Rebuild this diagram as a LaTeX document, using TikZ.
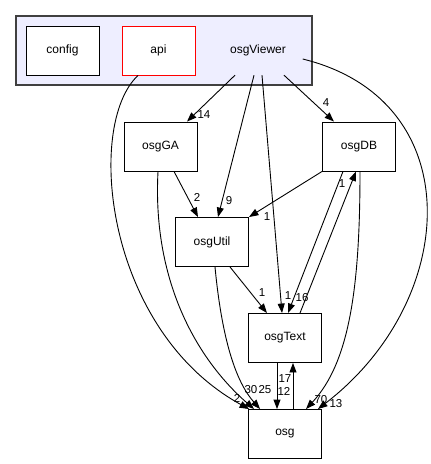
\documentclass[tikz,border=0pt]{standalone}
\usepackage{fontspec}
\setmainfont{Liberation Sans}
\usetikzlibrary{arrows.meta,calc}
\definecolor{dxframe}{HTML}{404040}
\definecolor{dxfill}{HTML}{EEEEFF}
\definecolor{dxred}{HTML}{FF0000}
\tikzset{
  dirbox/.style={rectangle,draw=black,fill=white,line width=.9pt,minimum width=73pt,minimum height=49pt,inner sep=0pt,font=\fontsize{12}{14}\selectfont},
  apibox/.style={dirbox,draw=dxred},
  cluster/.style={rectangle,draw=dxframe,fill=dxfill,line width=1.6pt,minimum width=296pt,minimum height=69pt,inner sep=0pt},
  plainbox/.style={rectangle,minimum width=73pt,minimum height=49pt,inner sep=0pt,font=\fontsize{12}{14}\selectfont},
  dep/.style={-{Triangle[length=9.5pt,width=7pt]},draw=black,line width=.9pt},
  cnt/.style={font=\fontsize{11.5}{13}\selectfont,inner sep=0pt},
}

\begin{document}
\begin{tikzpicture}[x=1pt,y=-1pt]
  \useasboundingbox (0,0) rectangle (431,464);
  % the osgViewer directory and its children
  \node[cluster] (viewerdir) at (164,50.5) {};
  \node[dirbox] (config) at (62.5,50.5) {config};
  \node[apibox] (api) at (158.5,50.5) {api};
  \node[plainbox] (osgViewer) at (258,50.5) {osgViewer};
  % the other directories
  \node[dirbox] (osgGA) at (160.5,146.5) {osgGA};
  \node[dirbox] (osgDB) at (359,146.5) {osgDB};
  \node[dirbox] (osgUtil) at (212,242) {osgUtil};
  \node[dirbox] (osgText) at (285,338) {osgText};
  \node[dirbox] (osg) at (285,434) {osg};
  % dependencies
  \draw[dep] ([xshift=-20.5pt]api.south) .. controls (85,125) and (105,330) .. ([xshift=1pt]osg.north west);
  \draw[dep] ([xshift=-23pt]osgViewer.south) -- ([xshift=26.5pt]osgGA.north);
  \draw[dep] ([xshift=-4pt]osgViewer.south) -- ([xshift=6pt]osgUtil.north);
  \draw[dep] ([xshift=4pt]osgViewer.south) -- ([xshift=-3pt]osgText.north);
  \draw[dep] ([xshift=26pt]osgViewer.south) -- ([xshift=-25pt]osgDB.north);
  \draw[dep] ([xshift=8pt,yshift=-8.5pt]osgViewer.east) .. controls (470,100) and (460,300) .. ([xshift=-4pt]osg.north east);
  \draw[dep] ([xshift=13.5pt]osgGA.south) -- ([xshift=-14pt]osgUtil.north);
  \draw[dep] ([xshift=-2.5pt]osgGA.south) .. controls (152,285) and (200,362) .. ([xshift=6pt]osg.north west);
  \draw[dep] ([xshift=18pt]osgUtil.south) -- ([xshift=-18pt]osgText.north);
  \draw[dep] ([xshift=3pt]osgUtil.south) .. controls (222,340) and (236,382) .. ([xshift=12pt]osg.north west);
  \draw[dep] (osgDB.south west) -- (osgUtil.north east);
  \draw[dep] ([xshift=-16pt]osgDB.south) -- ([xshift=3pt]osgText.north);
  \draw[dep] ([xshift=15pt]osgText.north) -- ([xshift=-3pt]osgDB.south);
  \draw[dep] ([xshift=1pt]osgDB.south) .. controls (360,285) and (350,362) .. ([xshift=21pt]osg.north);
  \draw[dep] ([xshift=-8pt]osgText.south) -- ([xshift=-8pt]osg.north);
  \draw[dep] ([xshift=8pt]osg.north) -- ([xshift=8pt]osgText.south);
  % include counts
  \node[cnt] (n-api-osg) at (237,398) {2};
  \node[cnt] (n-viewer-ga) at (204,115) {14};
  \node[cnt] (n-viewer-util) at (229,201) {9};
  \node[cnt] (n-viewer-db) at (326,103) {4};
  \node[cnt] (n-viewer-text) at (288,296) {1};
  \node[cnt] (n-viewer-osg) at (336,404) {13};
  \node[cnt] (n-ga-util) at (197,197) {2};
  \node[cnt] (n-ga-osg) at (251,390) {30};
  \node[cnt] (n-util-osg) at (265,390) {25};
  \node[cnt] (n-util-text) at (262,293) {1};
  \node[cnt] (n-db-util) at (267,217) {1};
  \node[cnt] (n-db-text) at (302,298) {16};
  \node[cnt] (n-text-db) at (342,184) {1};
  \node[cnt] (n-db-osg) at (321,400) {70};
  \node[cnt] (n-text-osg) at (284,391) {12};
  \node[cnt] (n-osg-text) at (285,379) {17};
\end{tikzpicture}
\end{document}
